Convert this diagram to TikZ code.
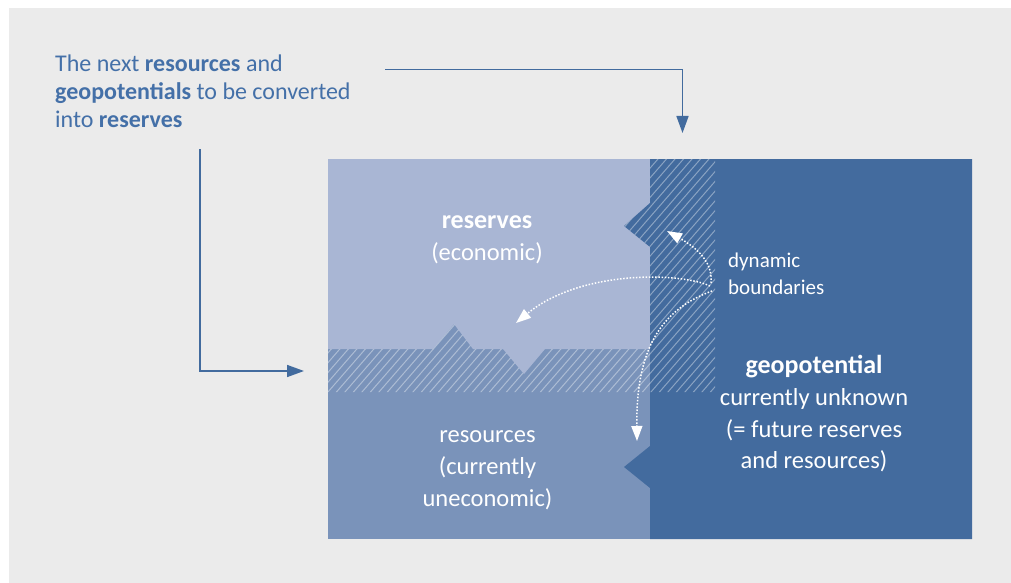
\documentclass[tikz,border=0pt]{standalone}
\usepackage{fontspec}
\setmainfont{Carlito}
\usetikzlibrary{arrows.meta}
\definecolor{bgpanel}{HTML}{EBEBEB}
\definecolor{reslight}{HTML}{A9B6D4}
\definecolor{resmid}{HTML}{7A93BA}
\definecolor{geodark}{HTML}{436B9E}
\definecolor{txtblue}{HTML}{4470A8}
\definecolor{linkblue}{HTML}{426B9E}
\begin{document}
\begin{tikzpicture}[x=1pt,y=-1pt,
  lbl/.style={inner sep=0pt, anchor=base, text=white, font=\fontsize{24.5}{32}\selectfont},
  lblb/.style={inner sep=0pt, anchor=base, text=white, font=\fontsize{26}{32}\selectfont\bfseries},
  dynlbl/.style={inner sep=0pt, anchor=base west, text=white, font=\fontsize{21}{27}\selectfont},
  note/.style={inner sep=0pt, anchor=base west, text=txtblue, font=\fontsize{24}{28}\selectfont},
  hatchline/.style={draw=white, draw opacity=0.38, line width=1pt},
  dynarrow/.style={draw=white, line width=1.5pt, dash pattern=on 1.5pt off 1.7pt, -{Triangle[length=15pt,width=11pt]}},
  link/.style={draw=linkblue, line width=1.6pt, -{Triangle[length=17pt,width=12pt]}}]
\useasboundingbox (0,0) rectangle (1011,583);
\fill[white] (0,0) rectangle (1011,583);
\fill[bgpanel] (9,8) rectangle (1011,583);
% left column base (resources)
\fill[resmid] (328,159) rectangle (650,539);
% reserves
\fill[reslight] (328,159) -- (650,159) -- (650,349) -- (545,349) -- (524,374) -- (503,349) -- (473,349) -- (454,324) -- (433,349) -- (328,349) -- cycle;
% geopotential
\fill[geodark] (650,159) -- (972,159) -- (972,539) -- (650,539) -- (650,488) -- (624,467) -- (650,446) -- (650,247) -- (624,226) -- (650,203) -- cycle;
% hatched boundary zones
\begin{scope}
\clip (328,392) -- (328,349) -- (433,349) -- (454,324) -- (473,349) -- (503,349) -- (524,374) -- (545,349) -- (650,349) -- (650,247) -- (624,226) -- (650,203) -- (650,159) -- (715,159) -- (715,392) -- cycle;
\foreach \i in {0,...,75} \draw[hatchline] (100+\i*8.5,400) -- ++(226,-260);
\end{scope}
% labels
\node[lblb] (r1) at (487,228) {reserves};
\node[lbl] (r2) at (487,260) {(economic)};
\node[lbl] (u1) at (487.5,442) {resources};
\node[lbl] (u2) at (487.5,474) {(currently};
\node[lbl] (u3) at (487.5,506) {uneconomic)};
\node[lblb] (g1) at (814,373) {geopotential};
\node[lbl] (g2) at (814,405) {currently unknown};
\node[lbl] (g3) at (814,437) {(= future reserves};
\node[lbl] (g4) at (814,468) {and resources)};
\node[dynlbl] (d1) at (728,267) {dynamic};
\node[dynlbl] (d2) at (728,294) {boundaries};
\node[note] (n1) at (55,72) {The next \textbf{resources} and};
\node[note] (n2) at (55,100) {\textbf{geopotentials} to be converted};
\node[note] (n3) at (55,128) {into \textbf{reserves}};
% dynamic boundary arrows
\coordinate (s1) at (711,283);
\coordinate (s2) at (710,286);
\coordinate (s3) at (712,291);
\coordinate (t1) at (667,231);
\coordinate (t2) at (516,323);
\coordinate (t3) at (637,441);
\draw[dynarrow] (s1) .. controls (713,262) and (697,248) .. (t1);
\draw[dynarrow] (s2) .. controls (680,272) and (580,270) .. (t2);
\draw[dynarrow] (s3) .. controls (660,310) and (636,350) .. (t3);
% connectors
\coordinate (c1s) at (385,69.5);
\coordinate (c1e) at (682.5,133);
\coordinate (c2s) at (200,149);
\coordinate (c2e) at (304,371);
\draw[link] (c1s) -| (c1e);
\draw[link] (c2s) |- (c2e);
\end{tikzpicture}
\end{document}
